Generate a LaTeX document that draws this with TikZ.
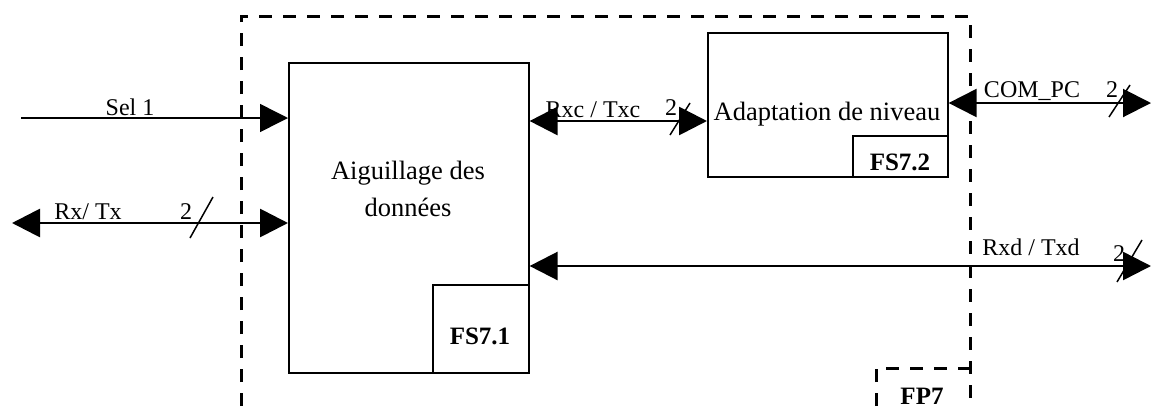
\documentclass[tikz,border=0pt]{standalone}
\usepackage{fontspec}
\setmainfont{Liberation Serif}
\usetikzlibrary{arrows.meta}
\begin{document}
\begin{tikzpicture}[x=1pt,y=-1pt,
  lbl/.style={font=\fontsize{24}{28}\selectfont, inner sep=0pt, anchor=base},
  blk/.style={draw, line width=1.6pt, inner sep=0pt, anchor=north west},
  subblk/.style={draw, line width=1.6pt, inner sep=0pt, anchor=south east},
  frame/.style={line width=3pt, dash pattern=on 13pt off 11pt},
  bigT/.tip={Triangle[length=28pt,width=28pt]},
  bus/.style={line width=2.8pt},
  slash/.style={line width=1.5pt}]
\useasboundingbox (0,0) rectangle (1151,408);
\clip (0,0) rectangle (1151,408);
% dashed frame
\draw[frame] (241,430) -- (241,16) -- (970,16) -- (970,430);
\draw[frame] (876,430) -- (876,368) -- (970,368);
\node[lbl, font=\fontsize{25}{28}\selectfont\bfseries] (fp7) at (922,404) {FP7};
% blocks
\node[blk, minimum width=240pt, minimum height=310pt] (aig) at (288,62) {};
\node[subblk, minimum width=96pt, minimum height=88pt] (fs71) at (aig.south east) {};
\node[lbl, font=\fontsize{25}{28}\selectfont\bfseries] (fs71t) at (480,344) {FS7.1};
\node[lbl, font=\fontsize{26.5}{37}\selectfont, align=center, anchor=base] (aigt) at (408,216) {Aiguillage des\\données};
\node[blk, minimum width=240pt, minimum height=144pt] (ada) at (707,32) {};
\node[subblk, minimum width=95pt, minimum height=41pt] (fs72) at (ada.south east) {};
\node[lbl, font=\fontsize{25}{28}\selectfont\bfseries] (fs72t) at (900,170) {FS7.2};
\node[lbl, font=\fontsize{26.5}{30}\selectfont] (adat) at (827,120) {Adaptation de niveau};
% Sel 1
\coordinate (selL) at (21,118);
\draw[line width=1.5pt, -{bigT}] (selL) -- (selL -| aig.west);
\node[lbl] (sel) at (130,115) {Sel 1};
% Rx/Tx
\coordinate (rxL) at (12,223);
\draw[bus, {bigT}-{bigT}] (rxL) -- (rxL -| aig.west);
\node[lbl] (rxt) at (88,219) {Rx/ Tx};
\node[lbl] (rx2) at (186,219) {2};
\coordinate (rxs1) at (190,238); \coordinate (rxs2) at (213,197);
\draw[slash] (rxs1) -- (rxs2);
% Rxc/Txc
\coordinate (rxcY) at (600,121);
\draw[bus, {bigT}-{bigT}] (rxcY -| aig.east) -- (rxcY -| ada.west);
\node[lbl] (rxct) at (593,117) {Rxc / Txc};
\node[lbl] (rxc2) at (671,115) {2};
\coordinate (rxcs1) at (670,135); \coordinate (rxcs2) at (690,103);
\draw[slash] (rxcs1) -- (rxcs2);
% COM_PC
\coordinate (comR) at (1151,103);
\draw[line width=2pt, {bigT}-{bigT}] (comR -| ada.east) -- (comR);
\node[lbl] (comt) at (1032,97) {COM\_PC};
\node[lbl] (com2) at (1112,97) {2};
\coordinate (coms1) at (1109,117); \coordinate (coms2) at (1130,85);
\draw[slash] (coms1) -- (coms2);
% Rxd/Txd
\coordinate (rxdR) at (1151,266);
\draw[line width=2.5pt, {bigT}-{bigT}] (rxdR -| aig.east) -- (rxdR);
\node[lbl] (rxdt) at (1031,255) {Rxd / Txd};
\node[lbl] (rxd2) at (1119,261) {2};
\coordinate (rxds1) at (1117,282); \coordinate (rxds2) at (1142,240);
\draw[slash] (rxds1) -- (rxds2);
\end{tikzpicture}
\end{document}
